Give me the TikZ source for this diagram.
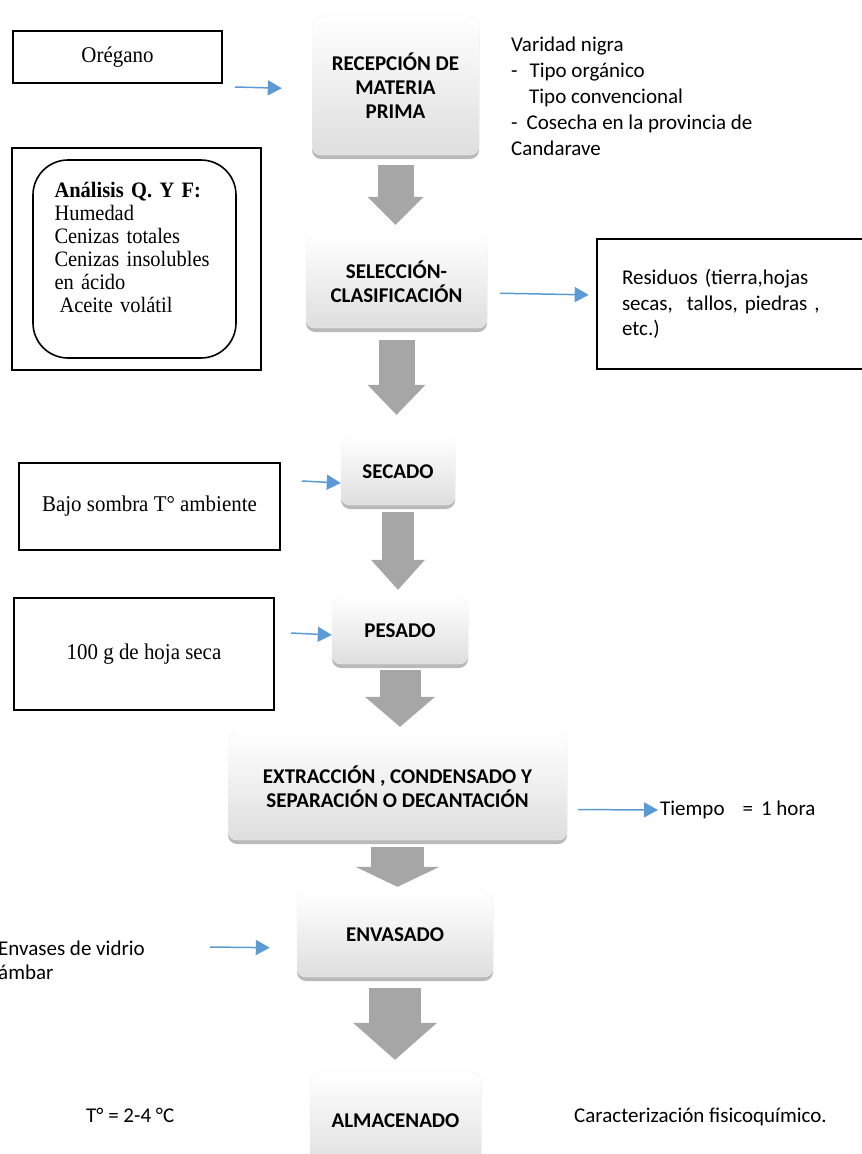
\documentclass[tikz,border=0pt]{standalone}
\usepackage{fontspec}
\setmainfont{Carlito}
\newfontfamily\timesfont{Liberation Serif}[FakeStretch=0.93]
\usepackage{tikz}
\usetikzlibrary{arrows.meta}
\usetikzlibrary{shadows}
\definecolor{ArrowBlue}{HTML}{5B9BD5}
\definecolor{StepGray}{HTML}{A6A6A6}
\tikzset{
  procbox/.style={rounded corners=9pt, top color=white, middle color=white, bottom color=black!13, draw=black!5,
    drop shadow={shadow xshift=0pt, shadow yshift=-4pt, fill=black!50, opacity=0.55},
    align=center, font=\bfseries, inner sep=0pt},
  notebox/.style={draw, line width=2.6pt, font={\timesfont\fontsize{22.5}{25}\selectfont}, align=center},
  plaintext/.style={inner sep=0pt, anchor=west, align=left},
  bluearrow/.style={ArrowBlue, line width=1.5pt, -{Triangle[length=14pt,width=15pt]}},
  bigarrow/.style n args={3}{StepGray, line width=#1, -{Triangle[length=#3,width=#2,line width=0pt]}}
}

\begin{document}
\fontsize{21}{24}\selectfont
\begin{tikzpicture}[x=1pt,y=-1pt]
    \useasboundingbox (0,0) rectangle (862,1154);
    \node[notebox, minimum width=209pt, minimum height=52pt] (oregano) at (117.5,57) {Orégano};
    \node[procbox, minimum width=167pt, minimum height=139pt] (recepcion) at (395.5,85.5) {RECEPCIÓN DE\\MATERIA\\PRIMA};
    \node[plaintext, font=\fontsize{21}{26}\selectfont] (variedad) at (511,96.5)
      {Varidad nigra\\-\hspace*{12pt}Tipo orgánico\\\hspace*{18pt}Tipo convencional\\-\hspace*{9pt}Cosecha en la provincia de\\Candarave};
    \node[notebox, minimum width=249pt, minimum height=222pt] (analisisbox) at (136.5,259) {};
    \node[draw, line width=1.6pt, rounded corners=35pt, minimum width=203pt, minimum height=198pt,
      text width=160pt, inner xsep=21.5pt, align=left, text depth=138pt,
      font={\timesfont\fontsize{22}{23}\selectfont}] (analisis) at (134.5,259)
      {\textbf{Análisis Q. Y F:}\\Humedad\\Cenizas totales\\Cenizas insolubles\\en ácido\\\hspace*{5pt}Aceite volátil};
    \node[procbox, minimum width=181pt, minimum height=92pt] (seleccion) at (396.5,282) {SELECCIÓN-\\CLASIFICACIÓN};
    \node[draw, line width=2.6pt, minimum height=130pt, text width=253pt, inner xsep=25pt, align=left,
      font=\fontsize{21}{25.5}\selectfont] (residuos) at (748.5,304)
      {Residuos (tierra,hojas\\secas,\ \ tallos, piedras ,\\etc.)};
    \node[procbox, minimum width=114pt, minimum height=67pt] (secado) at (398,471.5) {SECADO};
    \node[notebox, minimum width=261pt, minimum height=87pt] (bajo) at (149.5,506.5) {Bajo sombra T° ambiente};
    \node[procbox, minimum width=136pt, minimum height=66pt] (pesado) at (400,631) {PESADO};
    \node[notebox, minimum width=260pt, minimum height=112pt] (cien) at (144,654) {100 g de hoja seca};
    \node[procbox, minimum width=339pt, minimum height=107pt] (extraccion) at (397.5,786.5)
      {EXTRACCIÓN , CONDENSADO Y\\SEPARACIÓN O DECANTACIÓN};
    \node[plaintext] (tiempo) at (660,810) {Tiempo\hspace{18pt}=\hspace{8pt}1 hora};
    \node[procbox, minimum width=196pt, minimum height=84pt] (envasado) at (395,935) {ENVASADO};
    \node[plaintext, font=\fontsize{21}{24}\selectfont] (envases) at (-2,960) {Envases de vidrio\\ámbar};
    \node[procbox, minimum width=171pt, minimum height=98pt] (almacenado) at (395.5,1121) {ALMACENADO};
    \node[plaintext] (temperatura) at (86,1115) {T° = 2-4 °C};
    \node[plaintext] (caracterizacion) at (574,1117) {Caracterización fisicoquímico.};

    \coordinate (oregano-out) at (235,87);
    \coordinate (bajo-out) at (302,481);
    \coordinate (cien-out) at (291,633);
    \coordinate (envases-out) at (210,947);
    \draw[bluearrow, shorten >=30pt] (oregano-out) -- ([yshift=-3.5pt]recepcion.west);
    \draw[bluearrow, shorten <=13pt, shorten >=7pt] ([yshift=-11pt]seleccion.east) -- ([yshift=9pt]residuos.west);
    \draw[bluearrow] (bajo-out) -- ([yshift=-11.5pt]secado.west);
    \draw[bluearrow] (cien-out) -- ([yshift=-4pt]pesado.west);
    \draw[bluearrow, shorten <=11pt, shorten >=2pt] ([yshift=-23pt]extraccion.east) -- (tiempo.west);
    \draw[bluearrow, shorten >=27pt] (envases-out) -- ([yshift=-13pt]envasado.west);

    \draw[bigarrow={36pt}{56pt}{28pt}, shorten <=10pt, shorten >=11pt] (recepcion.south) -- (recepcion.south |- seleccion.north);
    \draw[bigarrow={36pt}{58pt}{30pt}, shorten <=12pt, shorten >=23pt] (seleccion.south) -- (seleccion.south |- secado.north);
    \draw[bigarrow={32pt}{54pt}{30pt}, shorten <=7pt, shorten >=8pt] (secado.south) -- (secado.south |- pesado.north);
    \draw[bigarrow={41pt}{70pt}{30pt}, shorten <=6pt, shorten >=6pt] (pesado.south) -- (pesado.south |- extraccion.north);
    \draw[bigarrow={53pt}{84pt}{20pt}, shorten <=7pt, shorten >=6pt] (extraccion.south) -- (extraccion.south |- envasado.north);
    \draw[bigarrow={52pt}{84pt}{37pt}, shorten <=11pt, shorten >=12pt] (envasado.south) -- (envasado.south |- almacenado.north);
\end{tikzpicture}
\end{document}
